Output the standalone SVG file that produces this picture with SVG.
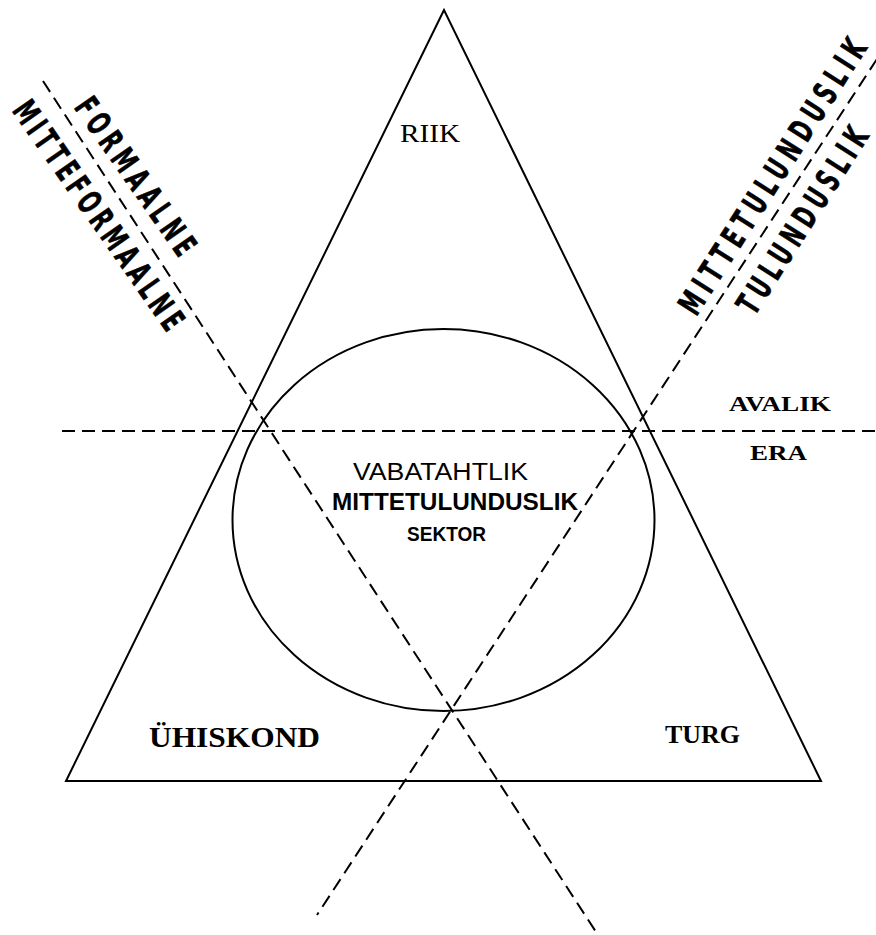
<svg xmlns="http://www.w3.org/2000/svg" width="876" height="935" viewBox="0 0 876 935">
<style>
.solid{fill:none;stroke:#000;stroke-width:2}
.dash{fill:none;stroke:#000;stroke-width:2;stroke-dasharray:13 7}
.tr{font-family:"Liberation Serif","Times New Roman",serif;fill:#000}
.ar{font-family:"Liberation Sans",Arial,sans-serif;fill:#000}
.st{font-family:"DejaVu Sans Condensed","Liberation Sans Narrow","Liberation Sans",sans-serif;font-weight:bold;fill:#000;font-size:33px;stroke:#000;stroke-width:0.6}
</style>
<rect width="876" height="935" fill="#fff"/>
<g id="connectors">
<line class="dash" x1="62" y1="431" x2="876" y2="431"/>
<line class="dash" x1="43" y1="81" x2="598" y2="935"/>
<line class="dash" x1="877" y1="59" x2="317" y2="915"/>
</g>
<g id="triangle">
<polygon class="solid" points="444,10 66,781 821,781"/>
</g>
<g id="ellipse">
<ellipse class="solid" cx="443.5" cy="520" rx="211" ry="191"/>
</g>
<g id="riik"><text class="tr" x="400" y="142" font-size="25" textLength="60" lengthAdjust="spacingAndGlyphs">RIIK</text></g>
<g id="uhiskond"><text class="tr" x="149" y="747" font-size="30" font-weight="bold" textLength="171" lengthAdjust="spacingAndGlyphs">ÜHISKOND</text></g>
<g id="turg"><text class="tr" x="665" y="743" font-size="25" font-weight="bold" textLength="75" lengthAdjust="spacingAndGlyphs">TURG</text></g>
<g id="avalik"><text class="tr" x="729" y="411" font-size="22" font-weight="bold" textLength="102" lengthAdjust="spacingAndGlyphs">AVALIK</text></g>
<g id="era"><text class="tr" x="750" y="460" font-size="21" font-weight="bold" textLength="57" lengthAdjust="spacingAndGlyphs">ERA</text></g>
<g id="sektor">
<text class="ar" x="353" y="480" font-size="23" textLength="175" lengthAdjust="spacingAndGlyphs">VABATAHTLIK</text>
<text class="ar" x="332" y="510" font-size="23" font-weight="bold" textLength="246" lengthAdjust="spacingAndGlyphs">MITTETULUNDUSLIK</text>
<text class="ar" x="407" y="541" font-size="21" font-weight="bold" textLength="79" lengthAdjust="spacingAndGlyphs">SEKTOR</text>
</g>
<g id="formaalne"><text class="st" transform="translate(136,176) rotate(55) scale(0.68,1)" y="12" text-anchor="middle" textLength="272" lengthAdjust="spacing">FORMAALNE</text></g>
<g id="mitteformaalne"><text class="st" transform="translate(99,215) rotate(55) scale(0.68,1)" y="12" text-anchor="middle" textLength="400" lengthAdjust="spacing">MITTEFORMAALNE</text></g>
<g id="mittetulunduslik"><text class="st" transform="translate(772,176) rotate(-57.5) scale(0.68,1)" y="12" text-anchor="middle" textLength="470" lengthAdjust="spacing">MITTETULUNDUSLIK</text></g>
<g id="tulunduslik"><text class="st" transform="translate(802,220) rotate(-57.5) scale(0.68,1)" y="12" text-anchor="middle" textLength="315" lengthAdjust="spacing">TULUNDUSLIK</text></g>
</svg>
